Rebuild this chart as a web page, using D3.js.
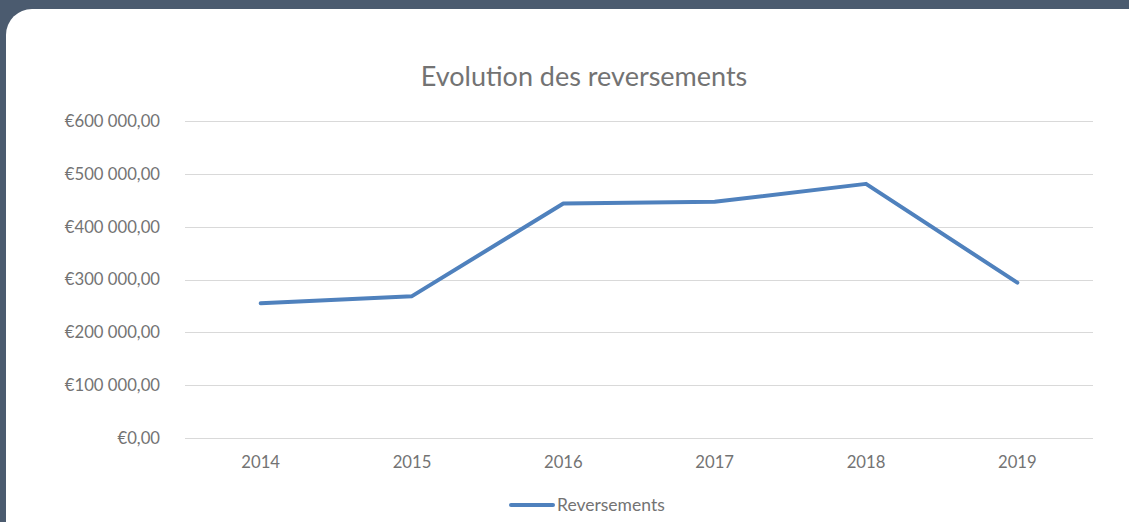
<!DOCTYPE html>
<html>
<head>
<meta charset="utf-8">
<script src="https://cdn.jsdelivr.net/npm/d3@7"></script>
<style>
  html, body { margin: 0; padding: 0; background: #4b5b6f; overflow: hidden; }
  svg { display: block; }
</style>
</head>
<body>
<svg id="chart" width="1129" height="522"></svg>
<script>
// Annual payouts
const years = ["2014", "2015", "2016", "2017", "2018", "2019"];
const reversements = [255000, 268500, 444000, 447000, 481000, 294000];
const yTicks = [0, 100000, 200000, 300000, 400000, 500000, 600000];
const seriesName = "Reversements";
const chartTitle = "Evolution des reversements";

const W = 1129, H = 522;
const svg = d3.select("#chart");
const font = "Lato, 'Open Sans', sans-serif";
const textColor = "#737373";

// White card
svg.append("rect")
  .attr("x", 6).attr("y", 9)
  .attr("width", 1150).attr("height", 540)
  .attr("rx", 26).attr("ry", 26)
  .attr("fill", "#ffffff");

const plot = { left: 185, right: 1093, top: 121, bottom: 438 };

const x = d3.scaleBand().domain(years).range([plot.left, plot.right]);
const y = d3.scaleLinear().domain([0, 600000]).range([plot.bottom, plot.top]);

// Euro format: €600 000,00
const euro = v => "€" + d3.format(",.2f")(v).replace(/,/g, " ").replace(".", ",");

// Gridlines
svg.append("g")
  .selectAll("line")
  .data(yTicks)
  .join("line")
  .attr("x1", plot.left).attr("x2", plot.right)
  .attr("y1", d => Math.round(y(d)) + 0.5).attr("y2", d => Math.round(y(d)) + 0.5)
  .attr("stroke", "#d9d9d9").attr("stroke-width", 1);

// Y axis labels
const yAxis = d3.axisLeft(y).tickValues(yTicks).tickFormat(euro).tickSize(0).tickPadding(25);
const gy = svg.append("g").attr("transform", `translate(${plot.left},0)`).call(yAxis);
gy.select(".domain").remove();
gy.selectAll("text")
  .attr("font-family", font).attr("font-size", 16.7).attr("fill", textColor);

// X axis labels
const xAxis = d3.axisBottom(x).tickSize(0).tickPadding(18.5);
const gx = svg.append("g").attr("transform", `translate(0,${plot.bottom})`).call(xAxis);
gx.select(".domain").remove();
gx.selectAll("text")
  .attr("font-family", font).attr("font-size", 16.7).attr("fill", textColor);

// Line series
const line = d3.line()
  .x((d, i) => x(years[i]) + x.bandwidth() / 2)
  .y(d => y(d));

svg.append("path")
  .datum(reversements)
  .attr("d", line)
  .attr("fill", "none")
  .attr("stroke", "#4f81bd")
  .attr("stroke-width", 4)
  .attr("stroke-linejoin", "round")
  .attr("stroke-linecap", "round");

// Title
svg.append("text")
  .attr("x", 584)
  .attr("y", 86)
  .attr("text-anchor", "middle")
  .attr("font-family", font)
  .attr("font-size", 27)
  .attr("fill", textColor)
  .text(chartTitle);

// Legend
const lg = svg.append("g").attr("transform", "translate(511,505)");
lg.append("line")
  .attr("x1", 0).attr("x2", 42).attr("y1", 0).attr("y2", 0)
  .attr("stroke", "#4f81bd").attr("stroke-width", 4).attr("stroke-linecap", "round");
lg.append("text")
  .attr("x", 46).attr("y", 6)
  .attr("font-family", font).attr("font-size", 17.5).attr("fill", textColor)
  .text(seriesName);
</script>
</body>
</html>
